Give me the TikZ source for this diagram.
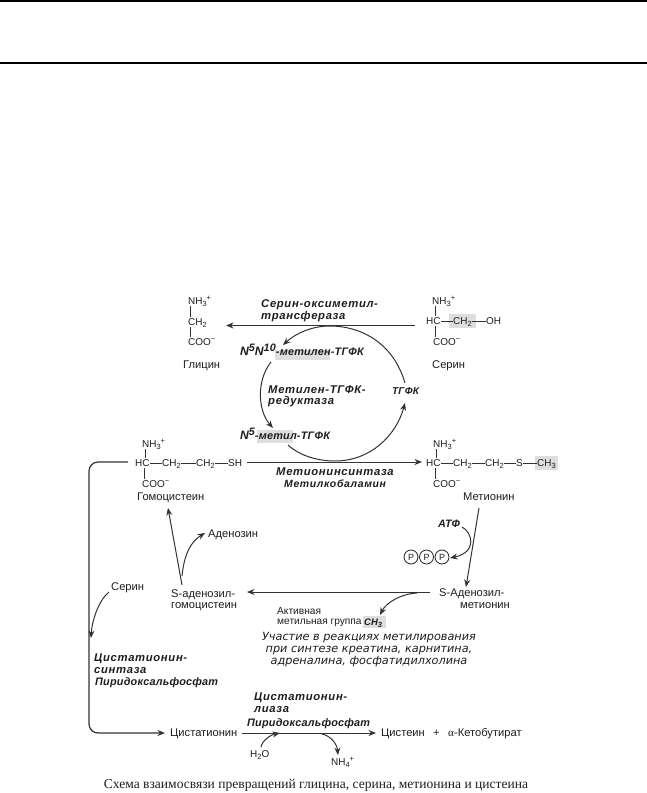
\documentclass[tikz,border=0pt]{standalone}
\usepackage{fontspec}
\usetikzlibrary{arrows.meta}
\setmainfont{Liberation Sans}
\newfontfamily\enzfont[LetterSpace=6]{Liberation Sans}
\newfontfamily\enzfontb[LetterSpace=2]{Liberation Sans}
\newfontfamily\partfont{DejaVu Sans}
\newfontfamily\capfont{Liberation Serif}
\newcommand{\upc}[1]{\raisebox{0.38em}{\fontsize{7.5}{7.5}\selectfont #1}}
\newcommand{\dnc}[1]{\raisebox{-0.22em}{\fontsize{7.5}{7.5}\selectfont #1}}
\newcommand{\bigup}[1]{\raisebox{0.32em}{\fontsize{10.8}{10.8}\selectfont #1}}
\newcommand{\bign}{{\fontsize{12.2}{13}\selectfont N}}
\definecolor{ink}{HTML}{1E1E1E}
\definecolor{hl}{HTML}{DEDEDE}
\definecolor{ln}{HTML}{333333}
\tikzset{
  x=1bp,y=-1bp,
  txt/.style={anchor=west,inner sep=0pt,text=ink,font=\fontsize{11.2}{13}\selectfont,text height=8bp,text depth=2bp},
  chem/.style={txt,font=\fontsize{10}{12}\selectfont},
  enz/.style={txt,font=\fontsize{11.3}{13}\enzfont\bfseries\itshape\selectfont},
  enzs/.style={txt,font=\fontsize{10.5}{13}\enzfont\bfseries\itshape\selectfont},
  cof/.style={txt,font=\fontsize{10.9}{13}\enzfontb\bfseries\itshape\selectfont},
  part/.style={txt,font=\fontsize{11.3}{13}\partfont\itshape\selectfont,anchor=center},
  small/.style={txt,font=\fontsize{10.2}{12}\selectfont},
  bond/.style={draw=ln,line width=0.8pt},
  arr/.style={draw=ln,line width=1pt,-{Stealth[length=7.5bp,width=6bp]}},
  shade/.style={fill=hl,draw=none},
  ppp/.style={circle,draw=ink,line width=0.8pt,minimum size=14bp,inner sep=0pt,text=ink,font=\fontsize{9}{9}\selectfont},
}
\begin{document}
\begin{tikzpicture}
\useasboundingbox (0,0) rectangle (647,793);
\fill[white] (0,0) rectangle (647,793);
% rules
\coordinate (r1a) at (0,1); \coordinate (r1b) at (647,1);
\coordinate (r2a) at (0,63); \coordinate (r2b) at (647,63);
\draw[black,line width=1.4pt] (r1a) -- (r1b);
\draw[black,line width=1.4pt] (r2a) -- (r2b);
% highlights
\fill[shade] (449,314) rectangle (476,328);
\fill[shade] (275,350) rectangle (330,360);
\fill[shade] (257,430) rectangle (293,443);
\fill[shade] (535,456) rectangle (558,470);
\fill[shade] (363,616) rectangle (386,628);
% glycine
\node[chem] (glyN) at (188,301) {NH\dnc{3}\upc{+}};
\node[chem] (glyC) at (188,322) {CH\dnc{2}};
\node[chem] (glyO) at (188,342) {COO\upc{−}};
\node[txt] (gly) at (183,365) {Глицин};
\draw[bond] ([xshift=2bp]glyN.south west) -- ([xshift=2bp]glyC.north west);
\draw[bond] ([xshift=2bp]glyC.south west) -- ([xshift=2bp]glyO.north west);
% serine
\node[chem] (serN) at (432,301) {NH\dnc{3}\upc{+}};
\node[chem] (serH) at (426,321) {HC};
\node[chem] (serC) at (453,321) {CH\dnc{2}};
\node[chem] (serOH) at (486,321) {OH};
\node[chem] (serO) at (433,342) {COO\upc{−}};
\node[txt] (ser) at (432,365) {Серин};
\draw[bond] ([xshift=3bp]serN.south west) -- ([xshift=3bp]serN.south west |- serH.north);
\draw[bond] ([xshift=2bp]serO.north west) -- ([xshift=2bp]serO.north west |- serH.south);
\draw[bond] (serH.east) -- (serC.west);
\draw[bond] (serC.east) -- (serOH.west);
% enzyme labels upper
\node[enz] (e1a) at (261,304) {Серин-оксиметил-};
\node[enz] (e1b) at (261,316) {трансфераза};
\node[cof] (n510) at (240,352) {\bign\bigup{5}\bign\bigup{10}-метилен-ТГФК};
\node[enz] (e2a) at (268,390) {Метилен-ТГФК-};
\node[enz] (e2b) at (268,401) {редуктаза};
\node[cof,font=\fontsize{10}{12}\enzfontb\bfseries\itshape\selectfont] (thf) at (392,391) {ТГФК};
\node[cof] (n5) at (240,436) {\bign\bigup{5}-метил-ТГФК};
\node[enz] (e3a) at (276,472) {Метионинсинтаза};
\node[enzs] (e3b) at (284,484) {Метилкобаламин};
% homocysteine
\node[chem] (hcyN) at (142,444) {NH\dnc{3}\upc{+}};
\node[chem] (hcyH) at (135,463) {HC};
\node[chem] (hcyC1) at (162,463) {CH\dnc{2}};
\node[chem] (hcyC2) at (196,463) {CH\dnc{2}};
\node[chem] (hcyS) at (228,463) {SH};
\node[chem] (hcyO) at (142,484) {COO\upc{−}};
\node[txt] (hcy) at (137,497) {Гомоцистеин};
\draw[bond] ([xshift=3bp]hcyN.south west) -- ([xshift=3bp]hcyN.south west |- hcyH.north);
\draw[bond] ([xshift=2bp]hcyO.north west) -- ([xshift=2bp]hcyO.north west |- hcyH.south);
\draw[bond] (hcyH.east) -- (hcyC1.west);
\draw[bond] (hcyC1.east) -- (hcyC2.west);
\draw[bond] (hcyC2.east) -- (hcyS.west);
% methionine
\node[chem] (metN) at (433,444) {NH\dnc{3}\upc{+}};
\node[chem] (metH) at (426,463) {HC};
\node[chem] (metC1) at (453,463) {CH\dnc{2}};
\node[chem] (metC2) at (485,463) {CH\dnc{2}};
\node[chem] (metS) at (516,463) {S};
\node[chem] (metC3) at (537,463) {CH\dnc{3}};
\node[chem] (metO) at (433,484) {COO\upc{−}};
\node[txt] (met) at (463,497) {Метионин};
\draw[bond] ([xshift=3bp]metN.south west) -- ([xshift=3bp]metN.south west |- metH.north);
\draw[bond] ([xshift=2bp]metO.north west) -- ([xshift=2bp]metO.north west |- metH.south);
\draw[bond] (metH.east) -- (metC1.west);
\draw[bond] (metC1.east) -- (metC2.west);
\draw[bond] (metC2.east) -- (metS.west);
\draw[bond] (metS.east) -- (metC3.west);
% mid labels
\node[txt] (ado) at (208,534) {Аденозин};
\node[cof,font=\fontsize{10.8}{12}\enzfontb\bfseries\itshape\selectfont] (atp) at (438,524) {АТФ};
\node[ppp] (p1) at (411,557) {P};
\node[ppp] (p2) at (426.5,557) {P};
\node[ppp] (p3) at (442,557) {P};
\node[txt] (sam1) at (439,593) {S-Аденозил-};
\node[txt] (sam2) at (460,605) {метионин};
\node[txt] (sah1) at (171,594) {S-аденозил-};
\node[txt] (sah2) at (171,605) {гомоцистеин};
\node[txt] (ser2) at (111,587) {Серин};
\node[small] (act1) at (277,611) {Активная};
\node[small] (act2) at (277,621) {метильная группа};
\node[cof,font=\fontsize{9.5}{10}\bfseries\itshape\selectfont] (ch3) at (364,622) {CH\dnc{3}};
\node[part] (p1l) at (369,637) {Участие в реакциях метилирования};
\node[part] (p2l) at (369,649) {при синтезе креатина, карнитина,};
\node[part] (p3l) at (369,661) {адреналина, фосфатидилхолина};
\node[enz] (c1) at (94,658) {Цистатионин-};
\node[enz] (c2) at (94,670) {синтаза};
\node[cof] (c3) at (95,682) {Пиридоксальфосфат};
\node[enz] (l1) at (254,697) {Цистатионин-};
\node[enz] (l2) at (254,709) {лиаза};
\node[cof] (l3) at (247,723) {Пиридоксальфосфат};
\node[txt] (cta) at (170,733) {Цистатионин};
\node[txt] (cys) at (381,733) {Цистеин};
\node[txt] (plus) at (433,733) {+};
\node[txt] (akb) at (448,733) {{\capfont α}-Кетобутират};
\node[chem] (h2o) at (250,754) {H\dnc{2}O};
\node[chem] (nh4) at (331,762) {NH\dnc{4}\upc{+}};
\node[anchor=center,inner sep=0pt,text=ink,font=\fontsize{13.6}{15}\capfont\selectfont] (cap) at (316,785) {Схема взаимосвязи превращений глицина, серина, метионина и цистеина};
% connector ends
\coordinate (aS) at (415,325.5); \coordinate (aG) at (226,325.5);
\coordinate (m0) at (247,462); \coordinate (m1) at (422,462);
\coordinate (t0) at (405,383); \coordinate (tm) at (330,326); \coordinate (t1) at (283,345);
\coordinate (l0) at (271,362); \coordinate (l1e) at (273,428);
\coordinate (b0) at (288,445); \coordinate (bm) at (335,461); \coordinate (b1) at (405,403);
\coordinate (s0) at (182,585); \coordinate (s1) at (168,508);
\coordinate (s2) at (182,576); \coordinate (s3) at (205,533);
\coordinate (ma) at (479,508); \coordinate (mb) at (466,587);
\coordinate (ap) at (462,527); \coordinate (pp) at (450,558);
\coordinate (sa) at (430,592); \coordinate (sb) at (247,592);
\coordinate (ca) at (417,593); \coordinate (cb) at (380,615);
\coordinate (sr) at (109,592); \coordinate (srb) at (91,638);
\coordinate (hL) at (128,462); \coordinate (hE) at (165,733);
\coordinate (ct0) at (242,733); \coordinate (ct1) at (376,733);
\coordinate (w0) at (261,747); \coordinate (w1) at (280,733);
\coordinate (n0) at (322,734); \coordinate (n1) at (338,755);
% connectors
\draw[arr] (aS) -- (aG);
\draw[arr] (m0) -- (m1);
\draw[arr] (t0) .. controls (393,342) and (360,326) .. (tm) .. controls (311,326) and (295,334) .. (t1);
\draw[arr] (l0) .. controls (256,381) and (258,411) .. (l1e);
\draw[arr] (b0) .. controls (300,456) and (318,461) .. (bm) .. controls (370,461) and (396,436) .. (b1);
\draw[arr] (s0) -- (s1);
\draw[arr] (s2) .. controls (184,556) and (190,542) .. (s3);
\draw[arr] (ma) -- (mb);
\draw[arr] (ap) .. controls (472,532) and (478,552) .. (pp);
\draw[arr] (sa) -- (sb);
\draw[arr] (ca) .. controls (400,594) and (386,603) .. (cb);
\draw[arr] (sr) .. controls (99,600) and (92,620) .. (srb);
\draw[arr,line width=1.2pt,rounded corners=9bp] (hL) -- (89,462) -- (89,733) -- (hE);
\draw[arr] (ct0) -- (ct1);
\draw[arr] (w0) .. controls (262,741) and (270,735) .. (w1);
\draw[arr] (n0) .. controls (331,736) and (337,744) .. (n1);
\end{tikzpicture}
\end{document}
